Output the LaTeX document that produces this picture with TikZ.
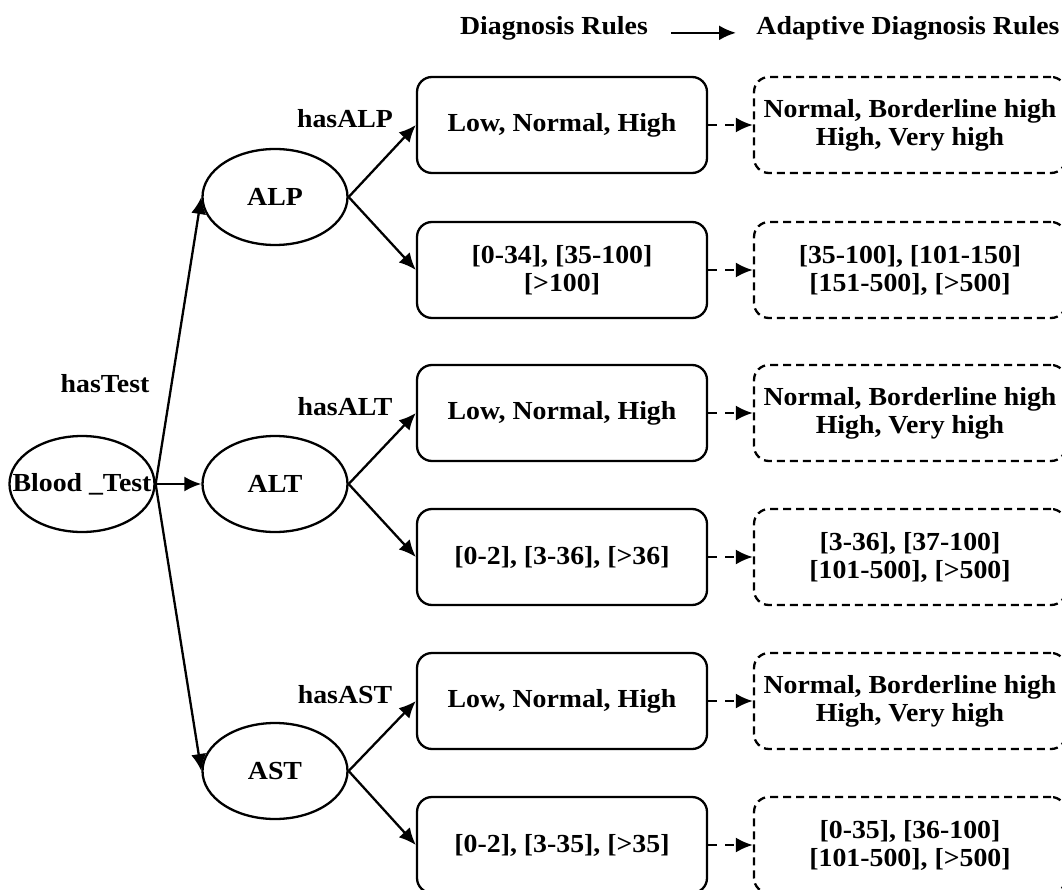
\documentclass[tikz,border=0pt]{standalone}
\usepackage{fontspec}
\setmainfont{Liberation Serif}[FakeStretch=1.07]
\usetikzlibrary{arrows.meta}
\usetikzlibrary{shapes.geometric}

\begin{document}
\begin{tikzpicture}[x=1pt,y=-1pt,line width=2.3pt,
  font=\bfseries\fontsize{26}{28}\selectfont,
  >={Latex[length=17pt,width=15pt]},
  test/.style={draw,ellipse,minimum width=145pt,minimum height=96pt,inner sep=0pt},
  rule/.style={draw,rounded corners=15pt,minimum width=290pt,minimum height=96pt,align=center},
  adaptive/.style={rule,dash pattern=on 8pt off 5pt,minimum width=312pt},
  rel/.style={anchor=base}]
\useasboundingbox (0,0) rectangle (1062,890);

% legend on top
\node[rel] (old) at (554,35) {Diagnosis Rules};
\node[rel,anchor=base west] (new) at (752,35) {Adaptive Diagnosis Rules};
\draw[->,shorten <=19pt,shorten >=16pt] ([yshift=-4pt]old.east) -- ([yshift=-4pt]new.west);

% tests
\node[test] (blood) at (82,484) {\makebox[0pt]{Blood \_Test}};
\node[test] (alp) at (275,197) {ALP};
\node[test] (alt) at (275,484) {ALT};
\node[test] (ast) at (275,771) {AST};

% diagnosis rules
\node[rule] (alp1) at (562,125) {Low, Normal, High};
\node[rule] (alp2) at (562,270) {[0-34], [35-100]\\ {[>100]}};
\node[rule] (alt1) at (562,413) {Low, Normal, High};
\node[rule] (alt2) at (562,557) {[0-2], [3-36], [>36]};
\node[rule] (ast1) at (562,701) {Low, Normal, High};
\node[rule] (ast2) at (562,845) {[0-2], [3-35], [>35]};

% adaptive diagnosis rules
\node[adaptive] (alp1-new) at (910,125) {Normal, Borderline high\\ High, Very high};
\node[adaptive] (alp2-new) at (910,270) {[35-100], [101-150]\\ {[151-500], [>500]}};
\node[adaptive] (alt1-new) at (910,413) {Normal, Borderline high\\ High, Very high};
\node[adaptive] (alt2-new) at (910,557) {[3-36], [37-100]\\ {[101-500], [>500]}};
\node[adaptive] (ast1-new) at (910,701) {Normal, Borderline high\\ High, Very high};
\node[adaptive] (ast2-new) at (910,845) {[0-35], [36-100]\\ {[101-500], [>500]}};

% relations
\node[rel] (hastest) at (105,392) {hasTest};
\node[rel] (hasalp) at (345,128) {hasALP};
\node[rel] (hasalt) at (345,415) {hasALT};
\node[rel] (hasast) at (345,703) {hasAST};

\draw[->] (blood.east) -- (alp.west);
\draw[->] (blood.east) -- (alt.west);
\draw[->] (blood.east) -- (ast.west);
\foreach \t in {alp,alt,ast}{
  \draw[->] (\t.east) -- (\t1.west);
  \draw[->] (\t.east) -- (\t2.west);
  \draw[->,dash pattern=on 9pt off 8pt] (\t1.east) -- (\t1-new.west);
  \draw[->,dash pattern=on 9pt off 8pt] (\t2.east) -- (\t2-new.west);
}

\end{tikzpicture}
\end{document}
